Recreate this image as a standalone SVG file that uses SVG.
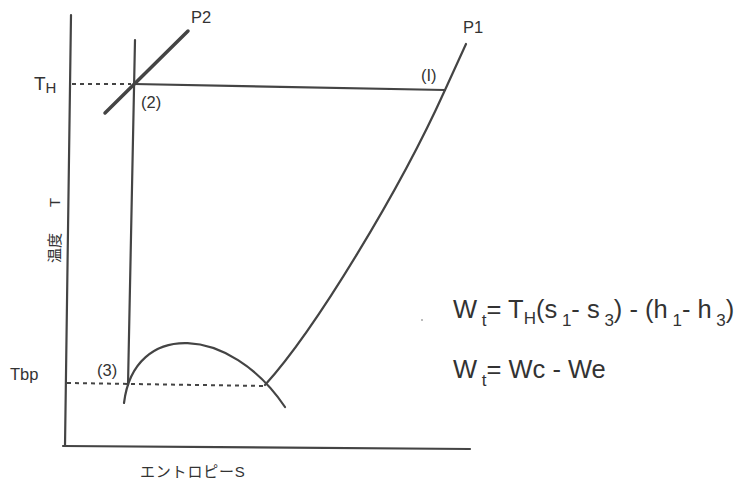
<svg xmlns="http://www.w3.org/2000/svg" width="753" height="482" viewBox="0 0 753 482">
<style>
.ln{fill:none;stroke:#444;stroke-width:2.2;stroke-linecap:round}
.dash{fill:none;stroke:#444;stroke-width:2;stroke-dasharray:4,4}
text{font-family:"Liberation Sans","Noto Sans CJK JP",sans-serif;fill:#333}
.lb{font-size:16.5px}
.eq{font-size:25.5px}
.sub{font-size:17px}
</style>
<rect width="753" height="482" fill="#fff"/>
<g id="axes">
<path class="ln" d="M71,15 L65,446"/>
<path class="ln" d="M63,446 L470,449"/>
</g>
<g id="connectors">
<path class="dash" d="M72,84 L131,84"/>
<path class="dash" d="M67,383 L265,386"/>
<path class="ln" d="M135,40 L128,385"/>
<path class="ln" d="M134,84 L445,90"/>
<path class="ln" style="stroke-width:3.5" d="M105,113 L188,31"/>
<path class="ln" d="M124,403 C134,320 230,325 285,407"/>
<path class="ln" d="M265,385 C315,330 400,190 445,90 L466,44"/>
</g>
<g id="labels">
<text x="34" y="90" font-size="19" font-family="Liberation Sans, sans-serif" fill="#333">T<tspan font-size="15" dy="3">H</tspan></text>
<text x="191" y="23" class="lb">P2</text>
<text x="463" y="33" class="lb">P1</text>
<text x="421" y="81" class="lb">(I)</text>
<text x="141" y="108" class="lb">(2)</text>
<text x="97" y="376" class="lb">(3)</text>
<text x="10" y="380" class="lb">Tbp</text>
<text x="140" y="477" class="lb" style="font-size:15px;letter-spacing:0.8px">エントロピーS</text>
<text transform="translate(60,263) rotate(-90)" class="lb" style="font-size:15px">温度</text>
<text transform="translate(60,207) rotate(-90)" class="lb" style="font-size:15px">T</text>
</g>
<g id="equations">
<circle cx="422" cy="320" r="0.8" fill="#666"/>
<text x="453" y="318" class="eq">W<tspan class="sub" dy="8"> t</tspan><tspan dy="-8">= T</tspan><tspan class="sub" dy="6">H</tspan><tspan dy="-6">(s</tspan><tspan class="sub" dy="8"> 1</tspan><tspan dy="-8">- s</tspan><tspan class="sub" dy="8"> 3</tspan><tspan dy="-8">) - (h</tspan><tspan class="sub" dy="8"> 1</tspan><tspan dy="-8">- h</tspan><tspan class="sub" dy="8"> 3</tspan><tspan dy="-8">)</tspan></text>
<text x="453" y="378" class="eq">W<tspan class="sub" dy="8"> t</tspan><tspan dy="-8">= Wc - We</tspan></text>
</g>
</svg>
